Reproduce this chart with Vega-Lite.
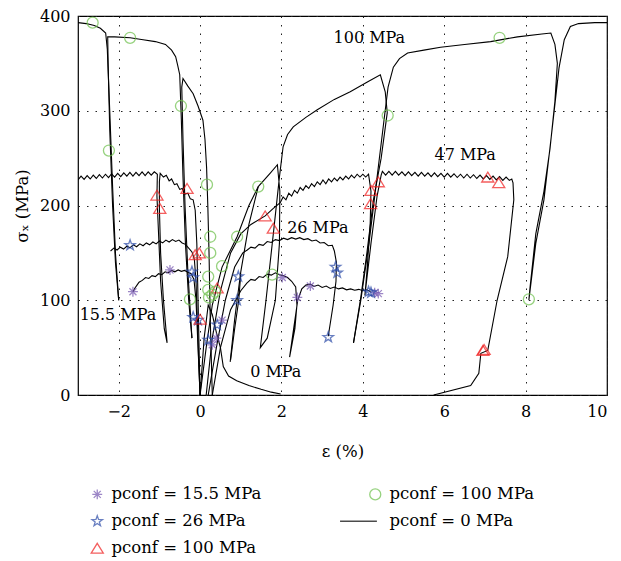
{
  "$schema": "https://vega.github.io/schema/vega-lite/v6.json",
  "width": 529,
  "height": 379,
  "autosize": {"type": "none"},
  "padding": {"left": 78, "top": 16, "right": 14, "bottom": 166},
  "background": "white",
  "config": {
    "view": {"stroke": "black", "strokeWidth": 1.2},
    "font": "DejaVu Serif",
    "axis": {"labelFont": "DejaVu Serif", "labelFontSize": 16, "labelColor": "black", "titleFont": "DejaVu Serif", "titleFontSize": 16.5, "titleFontWeight": "normal", "titleColor": "black", "gridColor": "#222", "gridDash": [1.5, 7], "gridWidth": 1, "domain": false, "ticks": false},
    "legend": {"orient": "none", "legendX": 11, "legendY": 470, "columns": 2, "columnPadding": 75, "rowPadding": 10, "padding": 0, "labelFont": "DejaVu Serif", "labelFontSize": 16.5, "labelColor": "black", "symbolSize": 121, "symbolStrokeWidth": 1.3, "labelOffset": 6, "title": null}
  },
  "datasets": {
    "lines": [
      {"c":"A","x":-3,"y":393},{"c":"A","x":-2.8,"y":392},{"c":"A","x":-2.6,"y":390},{"c":"A","x":-2.45,"y":387},{"c":"A","x":-2.32,"y":382},{"c":"A","x":-2.28,"y":365},{"c":"A","x":-2.22,"y":300},{"c":"A","x":-2.15,"y":220},{"c":"A","x":-2.08,"y":150},{"c":"A","x":-2.0,"y":100},
      {"c":"B","x":-2.0,"y":100},{"c":"B","x":-2.08,"y":140},{"c":"B","x":-2.15,"y":200},{"c":"B","x":-2.22,"y":280},{"c":"B","x":-2.26,"y":350},{"c":"B","x":-2.27,"y":378},{"c":"B","x":-2.1,"y":378},{"c":"B","x":-1.72,"y":377},{"c":"B","x":-1.4,"y":375},{"c":"B","x":-1.1,"y":373},{"c":"B","x":-0.85,"y":370},{"c":"B","x":-0.7,"y":364},{"c":"B","x":-0.6,"y":357},{"c":"B","x":-0.55,"y":348},{"c":"B","x":-0.5,"y":338},{"c":"B","x":-0.46,"y":290},{"c":"B","x":-0.42,"y":230},{"c":"B","x":-0.36,"y":160},{"c":"B","x":-0.28,"y":100},{"c":"B","x":-0.2,"y":60},
      {"c":"C","x":-0.2,"y":60},{"c":"C","x":-0.3,"y":130},{"c":"C","x":-0.37,"y":200},{"c":"C","x":-0.42,"y":270},{"c":"C","x":-0.45,"y":325},{"c":"C","x":-0.42,"y":334},{"c":"C","x":-0.3,"y":326},{"c":"C","x":-0.17,"y":318},{"c":"C","x":-0.05,"y":305},{"c":"C","x":0.07,"y":290},{"c":"C","x":0.12,"y":270},{"c":"C","x":0.16,"y":240},{"c":"C","x":0.19,"y":200},{"c":"C","x":0.22,"y":150},{"c":"C","x":0.25,"y":80},{"c":"C","x":0.3,"y":0},
      {"c":"D","x":0,"y":0},{"c":"D","x":0.15,"y":50},{"c":"D","x":0.3,"y":95},{"c":"D","x":0.54,"y":135},{"c":"D","x":0.91,"y":167},{"c":"D","x":1.2,"y":200},{"c":"D","x":1.43,"y":220},{"c":"D","x":1.72,"y":234},{"c":"D","x":1.9,"y":243},{"c":"D","x":1.96,"y":215},{"c":"D","x":1.95,"y":160},{"c":"D","x":1.85,"y":100},{"c":"D","x":1.65,"y":60},{"c":"D","x":1.48,"y":50},{"c":"D","x":1.62,"y":100},{"c":"D","x":1.8,"y":170},{"c":"D","x":1.95,"y":230},{"c":"D","x":2.04,"y":262},{"c":"D","x":2.15,"y":275},{"c":"D","x":2.29,"y":283},{"c":"D","x":2.6,"y":293},{"c":"D","x":2.88,"y":301},{"c":"D","x":3.3,"y":312},{"c":"D","x":3.69,"y":320},{"c":"D","x":4.1,"y":330},{"c":"D","x":4.43,"y":338},{"c":"D","x":4.55,"y":320},{"c":"D","x":4.6,"y":298},{"c":"D","x":4.45,"y":250},{"c":"D","x":4.26,"y":206},{"c":"D","x":4.1,"y":150},{"c":"D","x":3.95,"y":103},{"c":"D","x":3.77,"y":55},
      {"c":"E","x":3.77,"y":55},{"c":"E","x":3.95,"y":100},{"c":"E","x":4.15,"y":160},{"c":"E","x":4.35,"y":230},{"c":"E","x":4.52,"y":290},{"c":"E","x":4.62,"y":325},{"c":"E","x":4.75,"y":346},{"c":"E","x":4.9,"y":355},{"c":"E","x":5.1,"y":361},{"c":"E","x":5.5,"y":364},{"c":"E","x":5.91,"y":367},{"c":"E","x":6.5,"y":370},{"c":"E","x":7.14,"y":373},{"c":"E","x":7.8,"y":378},{"c":"E","x":8.4,"y":381},{"c":"E","x":8.62,"y":382},{"c":"E","x":8.72,"y":370},{"c":"E","x":8.78,"y":350},{"c":"E","x":8.72,"y":310},{"c":"E","x":8.6,"y":260},{"c":"E","x":8.45,"y":215},{"c":"E","x":8.25,"y":170},{"c":"E","x":8.1,"y":110},{"c":"E","x":8.08,"y":100},{"c":"E","x":8.25,"y":160},{"c":"E","x":8.45,"y":206},{"c":"E","x":8.65,"y":280},{"c":"E","x":8.82,"y":345},{"c":"E","x":8.95,"y":375},{"c":"E","x":9.1,"y":389},{"c":"E","x":9.3,"y":392},{"c":"E","x":9.7,"y":393},{"c":"E","x":10,"y":393},
      {"c":"F","x":-3.0,"y":227},{"c":"F","x":-2.925,"y":231},{"c":"F","x":-2.85,"y":227.5},{"c":"F","x":-2.775,"y":231.5},{"c":"F","x":-2.7,"y":228},{"c":"F","x":-2.625,"y":232},{"c":"F","x":-2.55,"y":228.5},{"c":"F","x":-2.475,"y":232.5},{"c":"F","x":-2.4,"y":229},{"c":"F","x":-2.325,"y":233},{"c":"F","x":-2.25,"y":229.5},{"c":"F","x":-2.175,"y":233.5},{"c":"F","x":-2.1,"y":230},{"c":"F","x":-2.025,"y":234},{"c":"F","x":-1.95,"y":230.5},{"c":"F","x":-1.875,"y":234.5},{"c":"F","x":-1.8,"y":231},{"c":"F","x":-1.725,"y":235},{"c":"F","x":-1.65,"y":231},{"c":"F","x":-1.575,"y":235},{"c":"F","x":-1.5,"y":231.5},{"c":"F","x":-1.425,"y":235.5},{"c":"F","x":-1.35,"y":231.5},{"c":"F","x":-1.275,"y":235.5},{"c":"F","x":-1.2,"y":232},{"c":"F","x":-1.125,"y":235.5},{"c":"F","x":-1.05,"y":233},{"c":"F","x":-1.06,"y":210},{"c":"F","x":-1.04,"y":190},{"c":"F","x":-0.97,"y":120},{"c":"F","x":-0.88,"y":70},{"c":"F","x":-0.81,"y":55},{"c":"F","x":-0.9,"y":100},{"c":"F","x":-0.97,"y":150},{"c":"F","x":-1.0,"y":197},{"c":"F","x":-1.0,"y":225},{"c":"F","x":-0.98,"y":234},{"c":"F","x":-0.9,"y":230},{"c":"F","x":-0.83,"y":232},{"c":"F","x":-0.76,"y":226},{"c":"F","x":-0.7,"y":228},{"c":"F","x":-0.63,"y":222},{"c":"F","x":-0.57,"y":223},{"c":"F","x":-0.5,"y":217},{"c":"F","x":-0.44,"y":218},{"c":"F","x":-0.37,"y":212},{"c":"F","x":-0.3,"y":213},{"c":"F","x":-0.24,"y":207},{"c":"F","x":-0.17,"y":206},{"c":"F","x":-0.12,"y":195},{"c":"F","x":-0.08,"y":160},{"c":"F","x":-0.05,"y":100},{"c":"F","x":-0.02,"y":40},{"c":"F","x":0,"y":0},
      {"c":"G","x":0.15,"y":0},{"c":"G","x":0.3,"y":60},{"c":"G","x":0.5,"y":110},{"c":"G","x":0.75,"y":150},{"c":"G","x":1.0,"y":170},{"c":"G","x":1.25,"y":180},{"c":"G","x":1.6,"y":189},{"c":"G","x":1.8,"y":197},{"c":"G","x":1.97,"y":203},{"c":"G","x":2.04,"y":209},{"c":"G","x":2.11,"y":206},{"c":"G","x":2.18,"y":213},{"c":"G","x":2.25,"y":210},{"c":"G","x":2.32,"y":216},{"c":"G","x":2.39,"y":213},{"c":"G","x":2.46,"y":219},{"c":"G","x":2.53,"y":216},{"c":"G","x":2.6,"y":221},{"c":"G","x":2.67,"y":218},{"c":"G","x":2.74,"y":223},{"c":"G","x":2.81,"y":220},{"c":"G","x":2.88,"y":225},{"c":"G","x":2.95,"y":222},{"c":"G","x":3.02,"y":227},{"c":"G","x":3.09,"y":223},{"c":"G","x":3.16,"y":228},{"c":"G","x":3.23,"y":225},{"c":"G","x":3.3,"y":229},{"c":"G","x":3.37,"y":226},{"c":"G","x":3.44,"y":230},{"c":"G","x":3.51,"y":227},{"c":"G","x":3.58,"y":231},{"c":"G","x":3.65,"y":228},{"c":"G","x":3.72,"y":232},{"c":"G","x":3.79,"y":229},{"c":"G","x":3.86,"y":233},{"c":"G","x":3.93,"y":230},{"c":"G","x":4.0,"y":233},{"c":"G","x":4.07,"y":230},{"c":"G","x":4.14,"y":233},{"c":"G","x":4.2,"y":215},{"c":"G","x":4.18,"y":180},{"c":"G","x":4.1,"y":130},{"c":"G","x":4.05,"y":105},{"c":"G","x":4.2,"y":160},{"c":"G","x":4.35,"y":210},{"c":"G","x":4.45,"y":232},{"c":"G","x":4.48,"y":236},{"c":"G","x":4.56,"y":232},{"c":"G","x":4.64,"y":236},{"c":"G","x":4.72,"y":232},{"c":"G","x":4.8,"y":236},{"c":"G","x":4.88,"y":232},{"c":"G","x":4.96,"y":235.5},{"c":"G","x":5.04,"y":231.5},{"c":"G","x":5.12,"y":235.5},{"c":"G","x":5.2,"y":231.5},{"c":"G","x":5.28,"y":235},{"c":"G","x":5.36,"y":231},{"c":"G","x":5.44,"y":235},{"c":"G","x":5.52,"y":231},{"c":"G","x":5.6,"y":234.5},{"c":"G","x":5.68,"y":230.5},{"c":"G","x":5.76,"y":234.5},{"c":"G","x":5.84,"y":230.5},{"c":"G","x":5.92,"y":234},{"c":"G","x":6.0,"y":230},{"c":"G","x":6.08,"y":234},{"c":"G","x":6.16,"y":230},{"c":"G","x":6.24,"y":233.5},{"c":"G","x":6.32,"y":229.5},{"c":"G","x":6.4,"y":233},{"c":"G","x":6.48,"y":229},{"c":"G","x":6.56,"y":233},{"c":"G","x":6.64,"y":229},{"c":"G","x":6.72,"y":232.5},{"c":"G","x":6.8,"y":228.5},{"c":"G","x":6.88,"y":232},{"c":"G","x":6.96,"y":228},{"c":"G","x":7.04,"y":231.5},{"c":"G","x":7.12,"y":227.5},{"c":"G","x":7.2,"y":231},{"c":"G","x":7.28,"y":227},{"c":"G","x":7.36,"y":230.5},{"c":"G","x":7.44,"y":226.5},{"c":"G","x":7.52,"y":230},{"c":"G","x":7.6,"y":226.5},{"c":"G","x":7.66,"y":228},{"c":"G","x":7.69,"y":224},{"c":"G","x":7.71,"y":206},{"c":"G","x":7.56,"y":146},{"c":"G","x":7.3,"y":100},{"c":"G","x":7.07,"y":47},{"c":"G","x":6.9,"y":44},{"c":"G","x":6.85,"y":23},{"c":"G","x":6.65,"y":10},{"c":"G","x":5.74,"y":0},
      {"c":"H","x":-2.2,"y":152},{"c":"H","x":-2.12,"y":155},{"c":"H","x":-2.04,"y":153},{"c":"H","x":-1.96,"y":156},{"c":"H","x":-1.88,"y":154},{"c":"H","x":-1.8,"y":157},{"c":"H","x":-1.72,"y":155.5},{"c":"H","x":-1.64,"y":158.5},{"c":"H","x":-1.56,"y":156.5},{"c":"H","x":-1.48,"y":159.5},{"c":"H","x":-1.4,"y":157.5},{"c":"H","x":-1.32,"y":160.5},{"c":"H","x":-1.24,"y":158.5},{"c":"H","x":-1.16,"y":161.5},{"c":"H","x":-1.08,"y":159.5},{"c":"H","x":-1.0,"y":162.5},{"c":"H","x":-0.92,"y":160.5},{"c":"H","x":-0.84,"y":163.5},{"c":"H","x":-0.76,"y":161.5},{"c":"H","x":-0.68,"y":164},{"c":"H","x":-0.6,"y":162},{"c":"H","x":-0.52,"y":163.5},{"c":"H","x":-0.44,"y":160.5},{"c":"H","x":-0.36,"y":159},{"c":"H","x":-0.28,"y":155},{"c":"H","x":-0.2,"y":151},{"c":"H","x":-0.14,"y":143},{"c":"H","x":-0.1,"y":120},{"c":"H","x":-0.06,"y":70},{"c":"H","x":-0.03,"y":30},{"c":"H","x":0,"y":0},
      {"c":"I","x":0.2,"y":0},{"c":"I","x":0.4,"y":50},{"c":"I","x":0.62,"y":100},{"c":"I","x":0.85,"y":135},{"c":"I","x":1.05,"y":150},{"c":"I","x":1.16,"y":153},{"c":"I","x":1.25,"y":156},{"c":"I","x":1.35,"y":155},{"c":"I","x":1.45,"y":159},{"c":"I","x":1.55,"y":158},{"c":"I","x":1.65,"y":162},{"c":"I","x":1.75,"y":161},{"c":"I","x":1.85,"y":164},{"c":"I","x":1.95,"y":163},{"c":"I","x":2.05,"y":165.5},{"c":"I","x":2.15,"y":164},{"c":"I","x":2.25,"y":166},{"c":"I","x":2.35,"y":164.5},{"c":"I","x":2.45,"y":166},{"c":"I","x":2.55,"y":164},{"c":"I","x":2.65,"y":165},{"c":"I","x":2.75,"y":162.5},{"c":"I","x":2.85,"y":163.5},{"c":"I","x":2.95,"y":160.5},{"c":"I","x":3.05,"y":161},{"c":"I","x":3.15,"y":157.5},{"c":"I","x":3.25,"y":158},{"c":"I","x":3.3,"y":152},{"c":"I","x":3.35,"y":140},{"c":"I","x":3.34,"y":120},{"c":"I","x":3.27,"y":95},{"c":"I","x":3.15,"y":62},
      {"c":"J","x":-1.65,"y":109},{"c":"J","x":-1.6,"y":113},{"c":"J","x":-1.55,"y":116},{"c":"J","x":-1.5,"y":119},{"c":"J","x":-1.42,"y":121},{"c":"J","x":-1.34,"y":124},{"c":"J","x":-1.26,"y":123},{"c":"J","x":-1.18,"y":126},{"c":"J","x":-1.1,"y":125},{"c":"J","x":-1.02,"y":128},{"c":"J","x":-0.94,"y":127},{"c":"J","x":-0.86,"y":130},{"c":"J","x":-0.78,"y":129},{"c":"J","x":-0.7,"y":131.5},{"c":"J","x":-0.62,"y":130},{"c":"J","x":-0.54,"y":132},{"c":"J","x":-0.46,"y":130.5},{"c":"J","x":-0.38,"y":131.5},{"c":"J","x":-0.3,"y":129.5},{"c":"J","x":-0.22,"y":128},{"c":"J","x":-0.15,"y":122},{"c":"J","x":-0.1,"y":100},{"c":"J","x":-0.05,"y":50},{"c":"J","x":0,"y":0},
      {"c":"K","x":0.3,"y":0},{"c":"K","x":0.5,"y":50},{"c":"K","x":0.75,"y":90},{"c":"K","x":1.0,"y":110},{"c":"K","x":1.15,"y":118},{"c":"K","x":1.25,"y":122},{"c":"K","x":1.35,"y":121},{"c":"K","x":1.45,"y":125},{"c":"K","x":1.55,"y":124},{"c":"K","x":1.65,"y":127.5},{"c":"K","x":1.75,"y":126.5},{"c":"K","x":1.85,"y":129},{"c":"K","x":1.95,"y":127},{"c":"K","x":2.04,"y":126},{"c":"K","x":2.15,"y":124},{"c":"K","x":2.25,"y":120},{"c":"K","x":2.35,"y":114},{"c":"K","x":2.38,"y":95},{"c":"K","x":2.33,"y":70},{"c":"K","x":2.2,"y":40},{"c":"K","x":2.3,"y":70},{"c":"K","x":2.4,"y":100},{"c":"K","x":2.5,"y":112},{"c":"K","x":2.6,"y":116},{"c":"K","x":2.71,"y":117},{"c":"K","x":2.8,"y":114.5},{"c":"K","x":2.9,"y":116},{"c":"K","x":3.0,"y":113.5},{"c":"K","x":3.1,"y":115},{"c":"K","x":3.2,"y":112.5},{"c":"K","x":3.3,"y":114},{"c":"K","x":3.4,"y":112},{"c":"K","x":3.5,"y":113},{"c":"K","x":3.6,"y":111},{"c":"K","x":3.7,"y":112},{"c":"K","x":3.8,"y":110.5},{"c":"K","x":3.9,"y":111.5},{"c":"K","x":4.0,"y":110},{"c":"K","x":4.1,"y":111},{"c":"K","x":4.19,"y":109},
      {"c":"L","x":0,"y":0},{"c":"L","x":0.1,"y":60},{"c":"L","x":0.2,"y":95},{"c":"L","x":0.3,"y":85},{"c":"L","x":0.4,"y":66},{"c":"L","x":0.5,"y":50},{"c":"L","x":0.57,"y":30},{"c":"L","x":0.7,"y":20},{"c":"L","x":0.9,"y":15},{"c":"L","x":1.2,"y":10},{"c":"L","x":1.5,"y":6},{"c":"L","x":1.75,"y":3},{"c":"L","x":1.98,"y":1},
      {"c":"M","x":0.74,"y":35},{"c":"M","x":0.85,"y":80},{"c":"M","x":1.0,"y":130},{"c":"M","x":1.2,"y":180},{"c":"M","x":1.43,"y":220},
      {"c":"N","x":1.0,"y":128},{"c":"N","x":0.95,"y":100},{"c":"N","x":0.85,"y":70},{"c":"N","x":0.75,"y":37}
    ],
    "pts": [
      {"s":"a15","x":-1.65,"y":109},{"s":"a15","x":-0.74,"y":132},{"s":"a15","x":2.02,"y":124},{"s":"a15","x":2.39,"y":103},{"s":"a15","x":2.71,"y":115},{"s":"a15","x":4.29,"y":108},{"s":"a15","x":4.38,"y":107},{"s":"a15","x":0.54,"y":79},{"s":"a15","x":0.3,"y":53},{"s":"a15","x":0.4,"y":60},
      {"s":"b26","x":-1.72,"y":158},{"s":"b26","x":-0.2,"y":130},{"s":"b26","x":-0.17,"y":124},{"s":"b26","x":-0.17,"y":82},{"s":"b26","x":0.42,"y":74},{"s":"b26","x":0.94,"y":125},{"s":"b26","x":0.91,"y":100},{"s":"b26","x":0.2,"y":58},{"s":"b26","x":3.33,"y":135},{"s":"b26","x":3.37,"y":129},{"s":"b26","x":3.15,"y":61},{"s":"b26","x":4.14,"y":109},{"s":"b26","x":4.2,"y":108},{"s":"b26","x":-0.05,"y":79},
      {"s":"r100","x":-1.06,"y":211},{"s":"r100","x":-0.99,"y":197},{"s":"r100","x":-0.32,"y":218},{"s":"r100","x":-0.12,"y":148},{"s":"r100","x":-0.02,"y":150},{"s":"r100","x":0.0,"y":80},{"s":"r100","x":0.42,"y":113},{"s":"r100","x":1.6,"y":189},{"s":"r100","x":1.8,"y":176},{"s":"r100","x":4.38,"y":225},{"s":"r100","x":4.2,"y":216},{"s":"r100","x":4.19,"y":202},{"s":"r100","x":7.07,"y":230},{"s":"r100","x":7.34,"y":224},{"s":"r100","x":6.95,"y":47},{"s":"r100","x":6.98,"y":48},
      {"s":"g100","x":-2.64,"y":393},{"s":"g100","x":-1.72,"y":377},{"s":"g100","x":-0.47,"y":305},{"s":"g100","x":-2.24,"y":258},{"s":"g100","x":0.17,"y":222},{"s":"g100","x":1.43,"y":220},{"s":"g100","x":4.61,"y":295},{"s":"g100","x":7.36,"y":377},{"s":"g100","x":8.08,"y":101},{"s":"g100","x":0.25,"y":167},{"s":"g100","x":0.25,"y":150},{"s":"g100","x":0.91,"y":167},{"s":"g100","x":0.54,"y":136},{"s":"g100","x":0.2,"y":125},{"s":"g100","x":-0.25,"y":101},{"s":"g100","x":0.2,"y":111},{"s":"g100","x":0.3,"y":106},{"s":"g100","x":0.37,"y":109},{"s":"g100","x":0.22,"y":103},{"s":"g100","x":1.77,"y":127}
    ],
    "ann": [
      {"t":"100 MPa","x":3.28,"y":377},
      {"t":"47 MPa","x":5.76,"y":253},
      {"t":"26 MPa","x":2.14,"y":176},
      {"t":"15.5 MPa","x":-2.96,"y":84},
      {"t":"0 MPa","x":1.23,"y":24}
    ]
  },
  "layer": [
    {
      "data": {"name": "lines"},
      "transform": [{"window": [{"op": "row_number", "as": "i"}]}],
      "mark": {"type": "line", "color": "black", "strokeWidth": 1.1, "clip": true},
      "encoding": {
        "x": {"field": "x", "type": "quantitative", "scale": {"domain": [-3, 10], "nice": false, "zero": false},
              "axis": {"values": [-2, 0, 2, 4, 6, 8, 10], "title": "ε (%)", "labelPadding": 8, "titlePadding": 24}},
        "y": {"field": "y", "type": "quantitative", "scale": {"domain": [0, 400], "nice": false},
              "axis": {"values": [0, 100, 200, 300, 400], "title": "σₓ (MPa)", "labelPadding": 8, "titlePadding": 9}},
        "detail": {"field": "c"},
        "order": {"field": "i", "type": "quantitative"}
      }
    },
    {
      "data": {"name": "pts"},
      "mark": {"type": "point", "filled": false, "size": 121, "strokeWidth": 1.3},
      "encoding": {
        "x": {"field": "x", "type": "quantitative"},
        "y": {"field": "y", "type": "quantitative"},
        "color": {"field": "s", "type": "nominal",
                  "scale": {"domain": ["a15", "b26", "r100", "g100", "l0"], "range": ["#7455b0", "#2a4aa8", "#f01c1c", "#6cc04a", "#000000"]},
                  "legend": {"labelExpr": "datum.value == 'a15' ? 'pconf = 15.5 MPa' : datum.value == 'g100' ? 'pconf = 100 MPa' : datum.value == 'b26' ? 'pconf = 26 MPa' : datum.value == 'l0' ? 'pconf = 0 MPa' : 'pconf = 100 MPa'"}},
        "shape": {"field": "s", "type": "nominal",
                  "scale": {"domain": ["a15", "b26", "r100", "g100", "l0"],
                            "range": ["M0,-0.9V0.9M-0.9,0H0.9M-0.64,-0.64L0.64,0.64M-0.64,0.64L0.64,-0.64", "M0,-1L0.235,-0.324L0.951,-0.309L0.38,0.124L0.588,0.809L0,0.4L-0.588,0.809L-0.38,0.124L-0.951,-0.309L-0.235,-0.324Z", "M0,-0.9L1.1,0.9L-1.1,0.9Z", "circle", "M-6.4,0H0.3"]}}
      }
    },
    {
      "data": {"name": "ann"},
      "mark": {"type": "text", "align": "left", "baseline": "middle", "font": "DejaVu Serif", "fontSize": 16, "color": "black"},
      "encoding": {
        "x": {"field": "x", "type": "quantitative"},
        "y": {"field": "y", "type": "quantitative"},
        "text": {"field": "t"}
      }
    }
  ]
}
